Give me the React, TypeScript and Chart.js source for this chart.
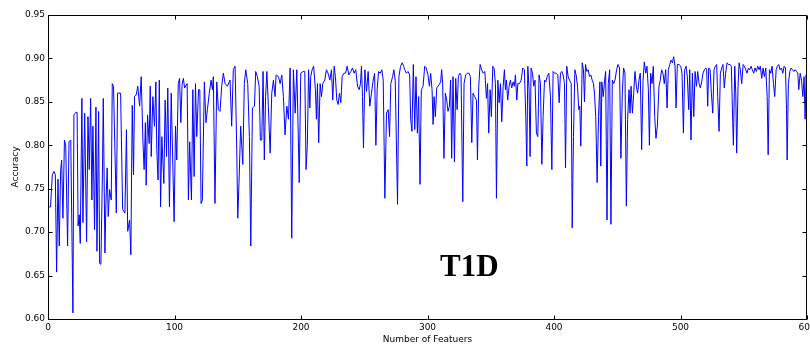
import React, { useEffect, useRef } from "react";
import { Chart, registerables } from "chart.js";

Chart.register(...registerables);

// Number of features (x) and accuracy (y)
const featureCounts: number[] = [
  0, 1, 2, 2.6, 3.4, 4.7, 5.8, 6.8, 7.9, 8.9, 10, 10.8, 11.8, 13, 14, 15.5, 16.6, 18, 19.7, 20.5,
  22, 23, 23.8, 24.7, 25.5, 26.8, 27.6, 29, 30.5, 31.6, 32.6, 33.7, 34.7, 35.5, 36.8, 37.9, 38.7, 40, 40.8, 41.8,
  43, 43.7, 45, 45.8, 46.8, 47.6, 48.7, 50, 50.8, 51.8, 54, 55, 57.4, 59, 60.8, 62, 63, 64.5, 65.5, 66.6,
  67.6, 68.4, 69.7, 71, 72.4, 73.7, 75, 76, 77, 77.6, 78.7, 80, 80.8, 81.6, 82.9, 84.2, 85.3, 86, 87, 88,
  89, 90, 91.6, 92.6, 93.7, 94.7, 96, 97.4, 98.7, 99.7, 100.8, 101.8, 103, 104, 105, 106, 107, 108, 110, 111,
  112, 113.4, 114.5, 115.5, 116.6, 117.6, 119, 120, 121, 122, 123.6, 124.9, 126, 127.5, 128.9, 130, 130.7, 132, 133.4, 134.7,
  136, 137.3, 138.6, 140, 141.8, 143.9, 145.2, 146.5, 147.9, 149.2, 150, 151, 152.3, 154, 155.2, 156.3, 157.9, 159.2, 160.3, 161.6,
  163.2, 164.2, 165.5, 166.9, 167.9, 169, 170, 171, 172, 173, 174.2, 175.6, 176.9, 178.2, 179.5, 180.3, 182.2, 183.5, 184.8, 186.1,
  187.4, 188.8, 190.1, 191.4, 192.7, 194, 195.4, 196.7, 197.8, 198.6, 199.8, 201.7, 203, 204, 205, 206, 207, 207.7, 208.8, 210,
  211.4, 212.2, 213, 214, 215.1, 216.2, 217.2, 218.8, 220.1, 221.4, 222.8, 224.1, 225.1, 226.2, 227.2, 228.3, 229.4, 230.4, 231.5, 232.5,
  233.9, 235.2, 236.5, 237.8, 239.4, 240.7, 242, 243.3, 244.7, 246, 247, 247.8, 248.6, 249.4, 250.5, 251.8, 253.1, 254.4, 255.7, 257.1,
  258.2, 259.2, 260.2, 261.3, 262.6, 263.9, 265, 266.3, 267.6, 268.9, 270, 271, 272.4, 273.4, 274.5, 276.3, 277.4, 278.7, 280, 281.2,
  282, 283.3, 284.6, 285.9, 286.7, 287.7, 288.8, 289.9, 290.9, 292, 293, 294.1, 295.1, 296.5, 297.8, 299, 300.4, 301.5, 302.5, 303.6,
  304.4, 305.2, 306.2, 307.3, 308.3, 309.3, 310.4, 311.2, 312, 313, 314.1, 315.2, 316.2, 317.3, 318.3, 319.1, 320.2, 321.3, 322.3, 323.4,
  324.4, 325.5, 326.5, 327.9, 328.9, 330.2, 331.5, 332.8, 333.9, 335, 336, 337.3, 338.7, 339.5, 340.5, 341.6, 342.8, 344, 345.3, 346.6,
  347.5, 348.4, 349.5, 350.5, 351.6, 352.6, 353.7, 354.5, 355.6, 356.6, 357.7, 358.7, 359.8, 360.8, 361.6, 362.4, 363.4, 364.5, 365.5, 366.6,
  367.7, 368.7, 369.5, 370.6, 371.4, 372.7, 374, 375.3, 376.6, 377.7, 378.5, 379.3, 380.3, 381.1, 381.9, 383, 384, 385, 386.1, 387.2,
  388.2, 389.3, 390.4, 391.4, 392.5, 393.5, 394.6, 395.9, 397.2, 398.3, 399.3, 400.4, 401.7, 403, 404.1, 405.1, 406.2, 407.2, 408.3, 409.1,
  410.1, 411.2, 412.3, 413.6, 414.4, 415.4, 416.5, 417.5, 418.6, 419.6, 420.4, 421.2, 422.3, 423.3, 424.1, 424.9, 426, 427, 428.1, 429.1,
  430.2, 431.2, 432, 433, 434.1, 435.2, 436.3, 437, 437.8, 438.9, 440, 440.8, 441.9, 442.9, 444, 445, 446.1, 447.2, 448.2, 449.5,
  450.6, 451.8, 452.9, 454, 455, 456.1, 457.2, 458.2, 459.3, 460.1, 460.9, 462, 463, 464, 465.1, 466.1, 467.2, 468.2, 469.3, 470.4,
  471.4, 472.5, 473.5, 474.6, 475.4, 476.4, 477.5, 478.5, 479.6, 480.6, 481.7, 483, 484, 485.1, 486.1, 487.2, 488.3, 489.4, 490.4, 491.5,
  492.5, 493.6, 494.6, 495.7, 496.5, 497.5, 498.8, 500.2, 501.2, 502.3, 503.3, 504.4, 505.4, 506.5, 507.3, 508.3, 509.4, 510.5, 511.5, 512.6,
  513.6, 514.7, 515.7, 516.7, 517.8, 518.9, 520, 520.7, 521.5, 522.3, 523.4, 524.4, 525.5, 526.5, 527.6, 528.6, 529.4, 530.5, 531.5, 532.6,
  533.6, 534.6, 535.7, 536.8, 537.9, 539.2, 540.2, 541.3, 541.8, 542.9, 543.7, 544.4, 545.5, 546.3, 547.3, 548.4, 549.5, 550.5, 551.6, 552.6,
  553.7, 554.7, 555.8, 556.8, 557.9, 558.9, 560, 561, 562.1, 563.1, 564.2, 565.3, 566.3, 567.4, 568.5, 569.3, 570.3, 571.4, 572.4, 573.5,
  574.5, 575.6, 576.6, 577.7, 578.7, 579.8, 580.9, 581.9, 583, 583.8, 584.3, 585.3, 586.4, 587.5, 588.5, 589.6, 590.6, 591.7, 592.7, 593.5,
  594.6, 595.7, 596.7, 597.7, 598.5, 599.3, 600,
];

const accuracy: number[] = [
  0.729, 0.729, 0.729, 0.745, 0.766, 0.770, 0.766, 0.654, 0.761, 0.684, 0.772, 0.783, 0.716, 0.806, 0.800, 0.684, 0.804, 0.806, 0.607, 0.835,
  0.838, 0.838, 0.707, 0.720, 0.687, 0.854, 0.711, 0.837, 0.689, 0.833, 0.772, 0.854, 0.737, 0.822, 0.703, 0.844, 0.678, 0.839, 0.664, 0.663,
  0.766, 0.854, 0.676, 0.733, 0.774, 0.718, 0.749, 0.737, 0.871, 0.868, 0.722, 0.860, 0.860, 0.726, 0.722, 0.818, 0.701, 0.714, 0.674, 0.846,
  0.766, 0.856, 0.858, 0.868, 0.845, 0.879, 0.806, 0.772, 0.826, 0.754, 0.835, 0.802, 0.868, 0.787, 0.856, 0.822, 0.873, 0.795, 0.760, 0.875,
  0.729, 0.810, 0.756, 0.852, 0.787, 0.866, 0.729, 0.860, 0.776, 0.712, 0.822, 0.783, 0.871, 0.877, 0.826, 0.870, 0.877, 0.866, 0.871, 0.737,
  0.804, 0.737, 0.864, 0.764, 0.871, 0.810, 0.864, 0.864, 0.733, 0.737, 0.873, 0.826, 0.841, 0.860, 0.875, 0.864, 0.879, 0.733, 0.873, 0.841,
  0.839, 0.868, 0.883, 0.871, 0.868, 0.875, 0.822, 0.887, 0.891, 0.795, 0.716, 0.757, 0.822, 0.778, 0.871, 0.887, 0.871, 0.810, 0.684, 0.843,
  0.845, 0.885, 0.879, 0.868, 0.806, 0.806, 0.885, 0.783, 0.856, 0.885, 0.845, 0.791, 0.860, 0.875, 0.856, 0.881, 0.879, 0.871, 0.881, 0.856,
  0.812, 0.845, 0.830, 0.889, 0.693, 0.887, 0.837, 0.887, 0.814, 0.757, 0.883, 0.885, 0.885, 0.772, 0.800, 0.887, 0.843, 0.879, 0.887, 0.891,
  0.864, 0.830, 0.871, 0.803, 0.871, 0.856, 0.871, 0.875, 0.887, 0.883, 0.875, 0.887, 0.852, 0.891, 0.879, 0.852, 0.847, 0.860, 0.849, 0.879,
  0.883, 0.883, 0.891, 0.881, 0.885, 0.889, 0.883, 0.887, 0.868, 0.864, 0.871, 0.891, 0.856, 0.797, 0.887, 0.862, 0.885, 0.845, 0.860, 0.875,
  0.883, 0.800, 0.864, 0.885, 0.883, 0.887, 0.875, 0.739, 0.837, 0.841, 0.810, 0.871, 0.879, 0.887, 0.875, 0.732, 0.879, 0.891, 0.895, 0.891,
  0.887, 0.883, 0.885, 0.881, 0.830, 0.816, 0.893, 0.818, 0.879, 0.814, 0.856, 0.755, 0.864, 0.868, 0.891, 0.889, 0.881, 0.868, 0.883, 0.864,
  0.824, 0.856, 0.833, 0.866, 0.868, 0.870, 0.873, 0.887, 0.871, 0.785, 0.860, 0.852, 0.839, 0.845, 0.875, 0.785, 0.879, 0.781, 0.877, 0.841,
  0.879, 0.883, 0.881, 0.735, 0.871, 0.881, 0.883, 0.883, 0.879, 0.803, 0.860, 0.856, 0.852, 0.783, 0.868, 0.893, 0.887, 0.883, 0.885, 0.854,
  0.871, 0.814, 0.864, 0.833, 0.891, 0.889, 0.871, 0.739, 0.875, 0.849, 0.871, 0.827, 0.868, 0.887, 0.864, 0.875, 0.852, 0.868, 0.875, 0.866,
  0.873, 0.868, 0.881, 0.852, 0.871, 0.871, 0.875, 0.889, 0.887, 0.833, 0.776, 0.891, 0.864, 0.787, 0.889, 0.883, 0.868, 0.875, 0.814, 0.810,
  0.881, 0.871, 0.778, 0.833, 0.875, 0.873, 0.879, 0.883, 0.856, 0.772, 0.885, 0.883, 0.883, 0.881, 0.849, 0.883, 0.885, 0.881, 0.871, 0.774,
  0.891, 0.879, 0.875, 0.871, 0.705, 0.810, 0.887, 0.881, 0.868, 0.841, 0.845, 0.799, 0.895, 0.887, 0.850, 0.893, 0.885, 0.887, 0.879, 0.881,
  0.875, 0.871, 0.860, 0.833, 0.757, 0.833, 0.873, 0.776, 0.873, 0.856, 0.875, 0.885, 0.714, 0.871, 0.887, 0.709, 0.875, 0.871, 0.875, 0.887,
  0.893, 0.889, 0.785, 0.860, 0.889, 0.883, 0.730, 0.830, 0.864, 0.837, 0.868, 0.837, 0.860, 0.885, 0.868, 0.860, 0.875, 0.883, 0.795, 0.875,
  0.896, 0.883, 0.891, 0.864, 0.800, 0.883, 0.871, 0.891, 0.833, 0.808, 0.822, 0.868, 0.875, 0.887, 0.883, 0.871, 0.887, 0.843, 0.887, 0.893,
  0.898, 0.895, 0.902, 0.891, 0.843, 0.893, 0.893, 0.891, 0.883, 0.814, 0.887, 0.891, 0.879, 0.841, 0.887, 0.806, 0.883, 0.833, 0.885, 0.868,
  0.885, 0.871, 0.866, 0.873, 0.883, 0.887, 0.889, 0.887, 0.845, 0.889, 0.887, 0.860, 0.837, 0.887, 0.891, 0.893, 0.856, 0.816, 0.883, 0.889,
  0.893, 0.866, 0.883, 0.895, 0.893, 0.893, 0.891, 0.826, 0.800, 0.891, 0.860, 0.791, 0.868, 0.895, 0.887, 0.871, 0.893, 0.891, 0.887, 0.883,
  0.889, 0.887, 0.891, 0.887, 0.883, 0.889, 0.885, 0.891, 0.887, 0.891, 0.877, 0.889, 0.879, 0.889, 0.856, 0.789, 0.887, 0.883, 0.891, 0.871,
  0.856, 0.887, 0.891, 0.893, 0.887, 0.889, 0.883, 0.891, 0.889, 0.841, 0.783, 0.871, 0.885, 0.889, 0.887, 0.885, 0.887, 0.885, 0.883, 0.864,
  0.883, 0.875, 0.856, 0.879, 0.830, 0.881, 0.868,
];

const xTickValues: number[] = [0, 100, 200, 300, 400, 500, 600];
const yTickValues: number[] = [0.6, 0.65, 0.7, 0.75, 0.8, 0.85, 0.9, 0.95];
const xTitle = "Number of Featuers";
const yTitle = "Accuracy";
const annotationText = "T1D";
const annotationX = 333;
const annotationY = 0.649;

const FONT = "'DejaVu Sans', sans-serif";

const framePlugin = {
  id: "frameAndTicks",
  afterDatasetsDraw(chart: any) {
    const { ctx, chartArea, scales } = chart;
    const l = chartArea.left + 0.5;
    const t = chartArea.top + 0.5;
    const r = chartArea.right - 0.5;
    const b = chartArea.bottom + 0.5;
    ctx.save();
    ctx.strokeStyle = "#000";
    ctx.lineWidth = 1;
    ctx.beginPath();
    ctx.moveTo(l, t);
    ctx.lineTo(r, t);
    ctx.lineTo(r, b);
    ctx.lineTo(l, b);
    ctx.closePath();
    const len = 4;
    for (const v of yTickValues) {
      const y = Math.round(scales.y.getPixelForValue(v)) + 0.5;
      ctx.moveTo(l, y);
      ctx.lineTo(l + len, y);
      ctx.moveTo(r, y);
      ctx.lineTo(r - len, y);
    }
    for (const v of xTickValues) {
      const x = Math.round(scales.x.getPixelForValue(v)) + 0.5;
      ctx.moveTo(x, b);
      ctx.lineTo(x, b - len);
      ctx.moveTo(x, t);
      ctx.lineTo(x, t + len);
    }
    ctx.stroke();
    // annotation label
    ctx.fillStyle = "#000";
    ctx.font = "bold 31px 'Liberation Serif', 'Times New Roman', serif";
    ctx.textAlign = "center";
    ctx.textBaseline = "alphabetic";
    ctx.fillText(
      annotationText,
      scales.x.getPixelForValue(annotationX),
      scales.y.getPixelForValue(annotationY)
    );
    ctx.restore();
  },
};

export default function App() {
  const canvasRef = useRef<HTMLCanvasElement | null>(null);

  useEffect(() => {
    if (!canvasRef.current) return;
    const chart = new Chart(canvasRef.current, {
      type: "line",
      data: {
        datasets: [
          {
            data: featureCounts.map((x, i) => ({ x, y: accuracy[i] })),
            borderColor: "#0000ff",
            borderWidth: 1,
            pointRadius: 0,
            tension: 0,
            fill: false,
          },
        ],
      },
      options: {
        animation: false,
        responsive: false,
        devicePixelRatio: 1,
        layout: { padding: { top: 15, right: 3, left: 0, bottom: 0 }, autoPadding: false },
        plugins: { legend: { display: false }, tooltip: { enabled: false } },
        scales: {
          x: {
            type: "linear",
            min: 0,
            max: 600,
            grid: { display: false, drawTicks: false },
            border: { display: false },
            afterBuildTicks: (scale: any) => {
              scale.ticks = xTickValues.map((v) => ({ value: v }));
            },
            afterFit: (scale: any) => {
              scale.height = 30;
              scale.paddingLeft = 0;
              scale.paddingRight = 0;
            },
            ticks: {
              padding: 3,
              maxRotation: 0,
              autoSkip: false,
              color: "#000",
              font: { family: FONT, size: 9 },
              callback: (v: any) => String(v),
            },
            title: {
              display: true,
              text: xTitle,
              color: "#000",
              font: { family: FONT, size: 9 },
              padding: { top: 0, bottom: 3.5 },
            },
          },
          y: {
            type: "linear",
            min: 0.6,
            max: 0.95,
            grid: { display: false, drawTicks: false },
            border: { display: false },
            afterBuildTicks: (scale: any) => {
              scale.ticks = yTickValues.map((v) => ({ value: v }));
            },
            afterFit: (scale: any) => {
              scale.width = 48;
              scale.paddingTop = 0;
              scale.paddingBottom = 0;
            },
            ticks: {
              padding: 3,
              color: "#000",
              font: { family: FONT, size: 9 },
              callback: (v: any) => Number(v).toFixed(2),
            },
            title: {
              display: true,
              text: yTitle,
              color: "#000",
              font: { family: FONT, size: 9 },
              padding: { top: 10.5, bottom: 0 },
            },
          },
        },
      },
      plugins: [framePlugin],
    });
    return () => chart.destroy();
  }, []);

  return (
    <div style={{ position: "fixed", left: 0, top: 0, width: 810, height: 349, background: "#fff" }}>
      <canvas ref={canvasRef} width={810} height={349} />
    </div>
  );
}
